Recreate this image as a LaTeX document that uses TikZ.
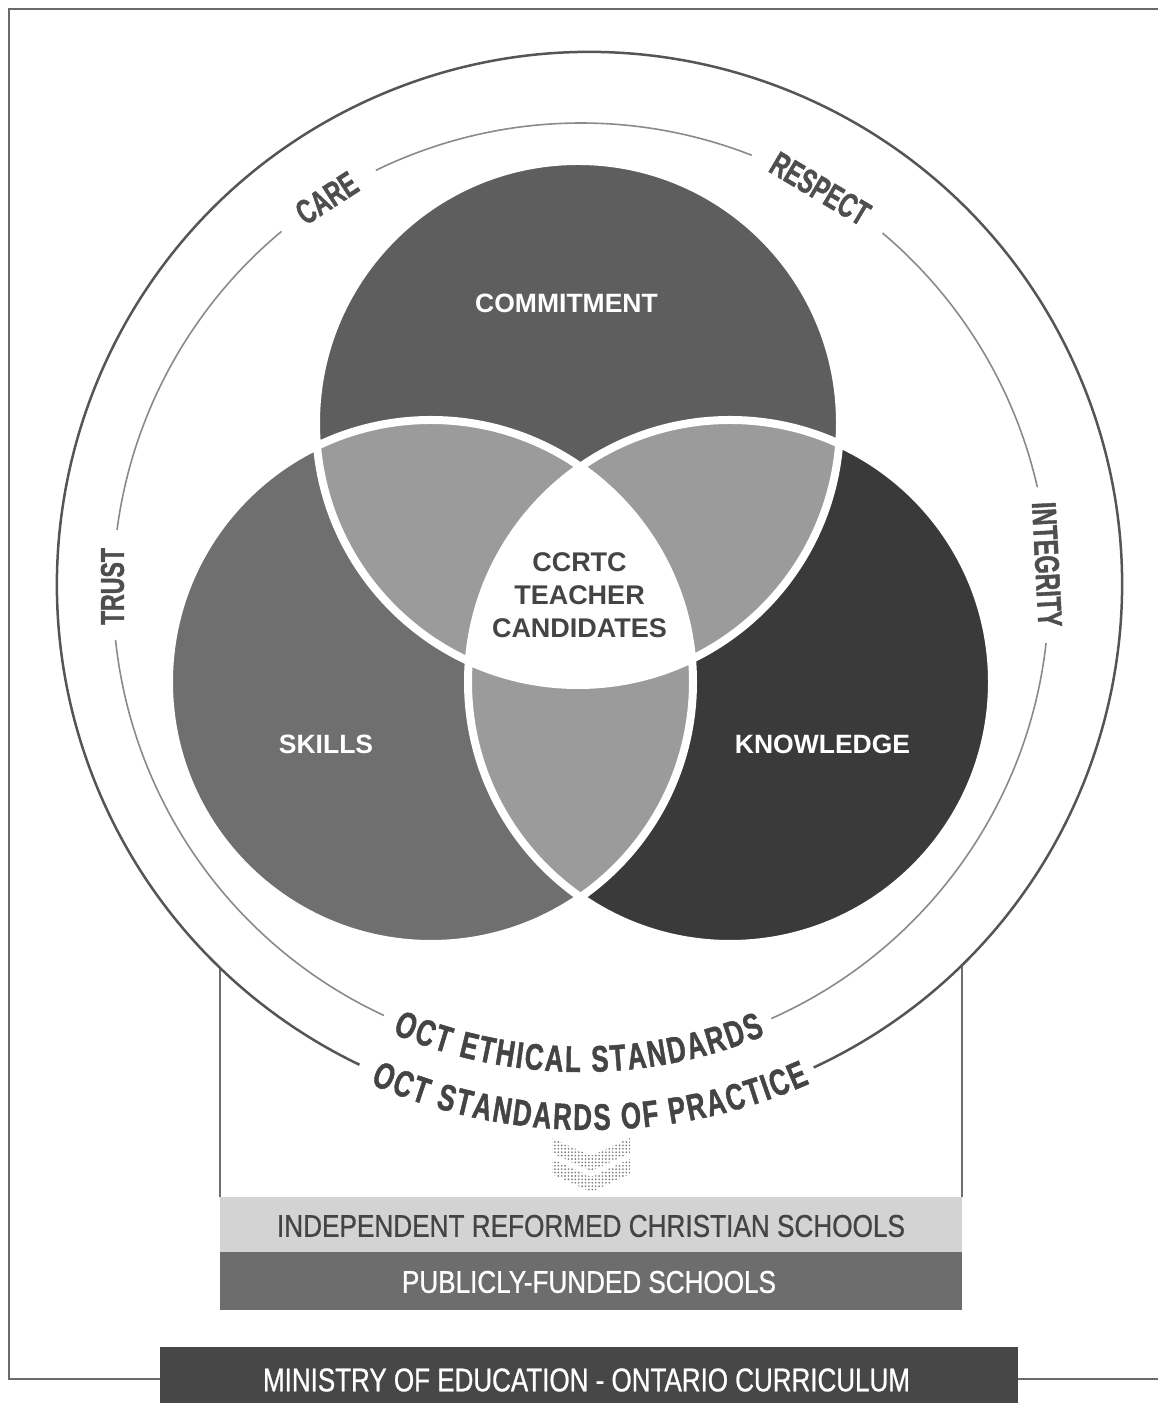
\documentclass[tikz,border=0pt]{standalone}
\usepackage{fontspec}
\setmainfont{Liberation Sans}
\newfontfamily\condf[FakeStretch=0.62, FakeBold=0.6]{Liberation Sans}
\newfontfamily\condbf[FakeStretch=0.7, FakeBold=1.2, UprightFont={* Bold}]{Liberation Sans}
\usetikzlibrary{decorations.text}
\definecolor{ctop}{HTML}{5E5E5E}
\definecolor{cleft}{HTML}{6F6F6F}
\definecolor{cright}{HTML}{3A3A3A}
\definecolor{cover}{HTML}{9B9B9B}
\definecolor{framec}{HTML}{6A6A6A}
\definecolor{outerc}{HTML}{555555}
\definecolor{innerc}{HTML}{8A8A8A}
\definecolor{ringtext}{HTML}{4E4E4E}
\definecolor{centertext}{HTML}{444444}
\definecolor{bandlight}{HTML}{D3D3D3}
\definecolor{banddark}{HTML}{6D6D6D}
\definecolor{ministry}{HTML}{474747}
\definecolor{chevc}{HTML}{7A7A7A}
\tikzset{
  ringword/.style={text=ringtext, inner sep=0pt},
  vennlabel/.style={text=white, inner sep=0pt, font=\bfseries\fontsize{26.5}{30}\selectfont},
  band/.style={inner sep=0pt, minimum width=742pt},
  curvetext/.style={decorate, decoration={text along path, text align={fit to path},
     text color=centertext}},
}
\begin{document}
\begin{tikzpicture}[x=1pt,y=1pt]
\useasboundingbox (0,0) rectangle (1157,1403);
% frame
\coordinate (fTR) at (1160,1394);
\coordinate (fTL) at (9,1394);
\coordinate (fBL) at (9,24);
\coordinate (fBR) at (1160,24);
\draw[framec, line width=2.5pt] (fTR) -- (fTL) -- (fBL) -- (fBR);
% bands
\node[band, fill=bandlight, minimum height=55pt] (irc) at (591,178.5) {};
\node[band, fill=banddark, minimum height=58pt] (pub) at (591,122) {};
\node[inner sep=0pt, fill=ministry, minimum width=858pt, minimum height=60pt] (min) at (589,26) {};
\node[inner sep=0pt, text=centertext] (irctext) at (591,177) {\resizebox{628pt}{22pt}{\condf INDEPENDENT REFORMED CHRISTIAN SCHOOLS}};
\node[inner sep=0pt, text=white] (pubtext) at (589,121) {\resizebox{374pt}{22pt}{\condf PUBLICLY-FUNDED SCHOOLS}};
\node[inner sep=0pt, text=white] (mintext) at (586.5,23) {\resizebox{647pt}{23pt}{\condf MINISTRY OF EDUCATION - ONTARIO CURRICULUM}};
% box sides
\coordinate (bTL) at (220,435.1);
\coordinate (bBL) at (220,206);
\coordinate (bTR) at (962,438);
\coordinate (bBR) at (962,206);
\draw[innerc!80!black, line width=2pt] (bTL) -- (bBL);
\draw[innerc!80!black, line width=2pt] (bTR) -- (bBR);
% outer circle
\coordinate (oc) at (589.5,818.5);
\draw[outerc, line width=2.5pt] (oc) ++(294.9:532.5) arc[start angle=294.9, end angle=604.4, radius=532.5];
% inner circle
\coordinate (ic) at (581,812);
\draw[innerc, line width=1.6pt] (ic) ++(12.8:468) arc[start angle=12.8, end angle=49.9, radius=468];
\draw[innerc, line width=1.6pt] (ic) ++(68.6:468) arc[start angle=68.6, end angle=116, radius=468];
\draw[innerc, line width=1.6pt] (ic) ++(129.8:468) arc[start angle=129.8, end angle=172.5, radius=468];
\draw[innerc, line width=1.6pt] (ic) ++(186:468) arc[start angle=186, end angle=245.1, radius=468];
\draw[innerc, line width=1.6pt] (ic) ++(294:468) arc[start angle=294, end angle=353.6, radius=468];
% Venn
\coordinate (T) at (578,980);
\coordinate (L) at (431,721);
\coordinate (R) at (730,721);
\fill[cleft] (L) circle[radius=262];
\fill[cright] (R) circle[radius=262];
\fill[ctop] (T) circle[radius=262];
\begin{scope}
  \clip (T) circle[radius=262];
  \fill[cover] (L) circle[radius=262];
  \fill[cover] (R) circle[radius=262];
\end{scope}
\begin{scope}
  \clip (L) circle[radius=262];
  \fill[cover] (R) circle[radius=262];
\end{scope}
\begin{scope}
  \clip (T) circle[radius=262];
  \clip (L) circle[radius=262];
  \fill[white] (R) circle[radius=262];
\end{scope}
\draw[white, line width=8pt] (T) circle[radius=262] (L) circle[radius=262] (R) circle[radius=262];
% Venn labels
\node[vennlabel] (commit) at (566.5,1099.5) {COMMITMENT};
\node[vennlabel] (skills) at (326,659) {SKILLS};
\node[vennlabel] (know) at (822.5,659) {KNOWLEDGE};
\node[inner sep=0pt, text=centertext, align=center, font=\bfseries\fontsize{27}{33}\selectfont] (center) at (579.5,808) {CCRTC\\TEACHER\\CANDIDATES};
% ring words
\node[ringword, rotate=90] (trust) at (112.5,816.5) {\resizebox{77pt}{23pt}{\condbf TRUST}};
\node[ringword, rotate=-87] (integ) at (1047,838.5) {\resizebox{125pt}{24pt}{\condbf INTEGRITY}};
\node[ringword, rotate=32.9] (care) at (326.8,1204.9) {\resizebox{66pt}{24pt}{\condbf CARE}};
\node[ringword, rotate=-30.75] (respect) at (820.2,1214.3) {\resizebox{109pt}{24pt}{\condbf RESPECT}};
% curved texts
\path[curvetext, decoration={text={|\condbf\fontsize{37}{40}\selectfont|OCT ETHICAL STANDARDS}}]
  (ic) ++(246.9:481) arc[start angle=246.9, end angle=292.5, radius=481];
\path[curvetext, decoration={text={|\condbf\fontsize{37}{40}\selectfont|OCT STANDARDS OF PRACTICE}}]
  (oc) ++(246.3:545.5) arc[start angle=246.3, end angle=293.8, radius=545.5];
% chevrons (halftone dots)
\begin{scope}
  \clip (552,265) -- (591,247) -- (630,265) -- (630,250) -- (591,232) -- (552,250) -- cycle
        (552,244) -- (591,226) -- (630,244) -- (630,229) -- (591,211) -- (552,229) -- cycle;
  \foreach \i in {0,...,23} {
    \foreach \j in {0,...,17} {
      \fill[chevc] (551.5+\i*3.4, 210+\j*3.4) circle[radius=0.95];
    }
  }
\end{scope}
\end{tikzpicture}
\end{document}
